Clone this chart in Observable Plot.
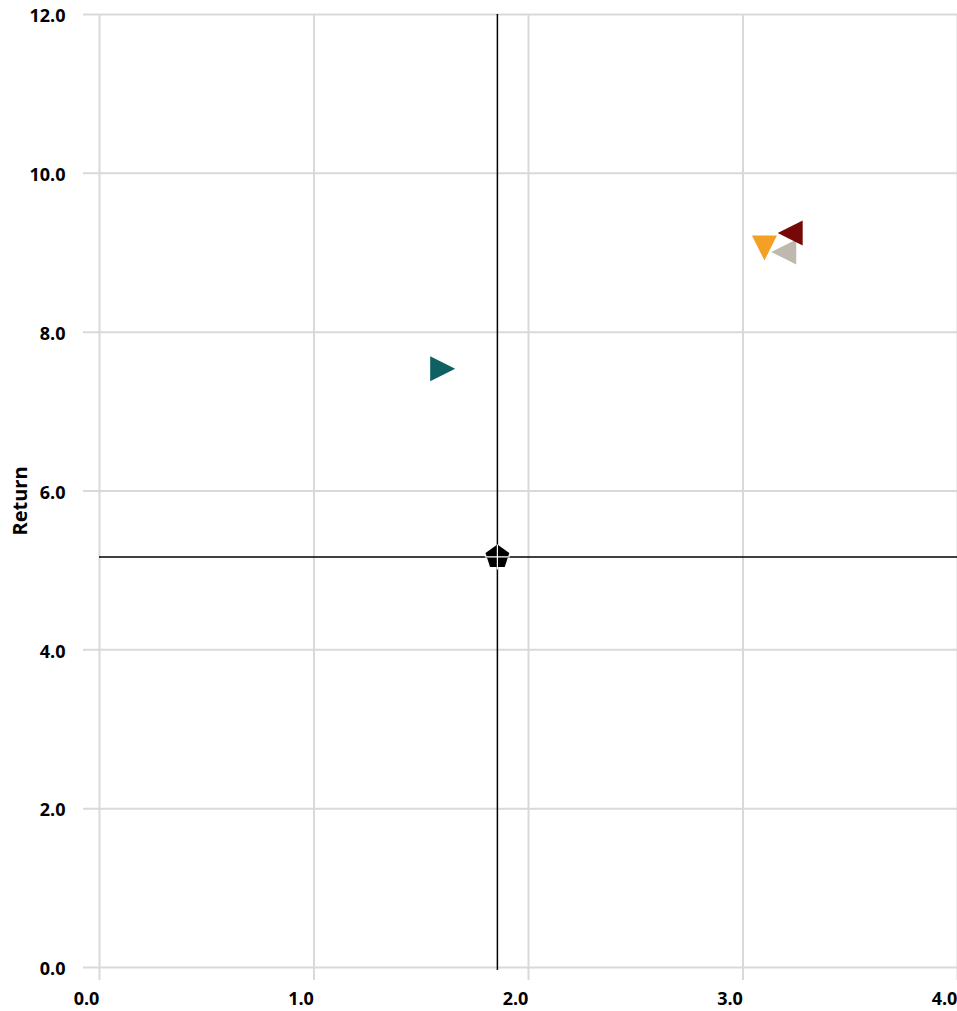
<!DOCTYPE html>
<html>
<head>
<meta charset="utf-8">
<script src="https://cdn.jsdelivr.net/npm/d3@7"></script>
<script src="https://cdn.jsdelivr.net/npm/@observablehq/plot@0.6"></script>
<style>
  html, body { margin: 0; padding: 0; background: #fff; }
  #chart svg { display: block; }
</style>
</head>
<body>
<div id="chart"></div>
<script>
// ---- data ----
const seriesNames = ["Series 1", "Series 2", "Series 3", "Series 4"];
const riskValues = [1.60, 3.10, 3.19, 3.22];
const returnValues = [7.54, 9.06, 9.01, 9.25];
const seriesColors = ["#0e6063", "#f4a024", "#bfb8ae", "#760808"];
const seriesRotation = [90, 180, -90, -90];
const benchmarkRisk = [1.855];
const benchmarkReturn = [5.17];
const xTicks = [0, 1, 2, 3, 4];
const yTicks = [0, 2, 4, 6, 8, 10, 12];

const points = seriesNames.map((name, i) => ({
  name, risk: riskValues[i], ret: returnValues[i], rot: seriesRotation[i]
}));
const benchmark = benchmarkRisk.map((r, i) => ({risk: r, ret: benchmarkReturn[i]}));

// custom symbols
const triangle = {
  draw(ctx, size) {
    const d = Math.sqrt(size / Math.PI) * 2;
    ctx.moveTo(0, -d / 2);
    ctx.lineTo(d / 2, d / 2);
    ctx.lineTo(-d / 2, d / 2);
    ctx.closePath();
  }
};
const pentagon = {
  draw(ctx, size) {
    const R = Math.sqrt(size / Math.PI);
    for (let k = 0; k < 5; k++) {
      const a = -Math.PI / 2 + k * 2 * Math.PI / 5;
      const px = R * Math.cos(a), py = R * Math.sin(a);
      if (k === 0) ctx.moveTo(px, py); else ctx.lineTo(px, py);
    }
    ctx.closePath();
  }
};
const thinCross = {
  draw(ctx, size) {
    const R = Math.sqrt(size / Math.PI);
    ctx.moveTo(-R, 0); ctx.lineTo(R, 0);
    ctx.moveTo(0, -R); ctx.lineTo(0, R);
  }
};

const font = "'Open Sans', 'Liberation Sans', sans-serif";

const chart = Plot.plot({
  width: 957,
  height: 1011,
  marginLeft: 99,
  marginRight: 0,
  marginTop: 14,
  marginBottom: 44,
  style: {fontFamily: font, fontSize: "18px", fontWeight: "bold", color: "#000", background: "#fff", overflow: "visible"},
  x: {domain: [0, 4]},
  y: {domain: [0, 12]},
  color: {domain: seriesNames, range: seriesColors},
  marks: [
    Plot.ruleX(xTicks, {stroke: "#d9d9d9", strokeWidth: 2, insetBottom: -13}),
    Plot.ruleY(yTicks, {stroke: "#d9d9d9", strokeWidth: 2, insetLeft: -16}),
    Plot.axisX({ticks: xTicks, tickSize: 0, tickPadding: 25, dx: -13, tickFormat: d3.format(".1f"), label: null, fontSize: 18, fontWeight: "bold"}),
    Plot.axisY({ticks: yTicks, tickSize: 0, tickPadding: 34, dy: 2, tickFormat: d3.format(".1f"), label: null, fontSize: 18, fontWeight: "bold"}),
    Plot.text(["Return"], {frameAnchor: "left", textAnchor: "middle", rotate: -90, dx: -79, dy: 10, fontSize: 20, fontWeight: "bold"}),
    Plot.ruleX(benchmark, {x: "risk", stroke: "#000", strokeWidth: 1.5, insetBottom: -3}),
    Plot.ruleY(benchmark, {y: "ret", stroke: "#000", strokeWidth: 1.5}),
    Plot.dot(benchmark, {x: "risk", y: "ret", symbol: pentagon, r: 12.5, fill: "#000", stroke: "none"}),
    Plot.dot(benchmark, {x: "risk", y: "ret", symbol: thinCross, r: 12.5, fill: "none", stroke: "#fff", strokeWidth: 1.2}),
    Plot.dot(points, {x: "risk", y: "ret", symbol: triangle, r: 12.5, rotate: "rot", fill: "name", stroke: "none"})
  ]
});
document.getElementById("chart").appendChild(chart);
</script>
</body>
</html>
